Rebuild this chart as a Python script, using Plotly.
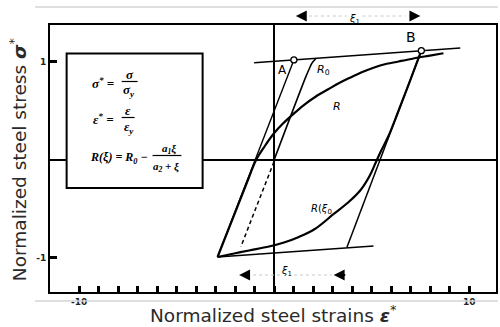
import plotly.graph_objects as go

# ---------------- data (normalized strain eps*, normalized stress sigma*) ----------------
upper_asym_x = [-1.03, 9.54]
upper_asym_y = [0.992, 1.142]
lower_asym_x = [-2.905, 5.094]
lower_asym_y = [-0.995, -0.882]
elastic_A_x = [-2.905, 1.01]
elastic_A_y = [-0.995, 1.02]
unload_B_x = [7.545, 3.731]
unload_B_y = [1.115, -0.896]
r0_x = [0.0, 1.62, 1.80, 1.93, 2.15]
r0_y = [0.0, 0.847, 0.93, 0.985, 1.037]
r0_dash_x = [-0.01, -1.71]
r0_dash_y = [-0.02, -0.89]
r_curve_x = [-2.905, -1.307, -0.929, -0.495, -0.010, 0.449, 0.924, 1.521, 2.118,
             2.797, 3.308, 3.818, 4.584, 5.518, 6.381, 7.146, 7.912, 8.678]
r_curve_y = [-0.995, -0.187, -0.003, 0.135, 0.270, 0.370, 0.457, 0.559, 0.644,
             0.723, 0.781, 0.832, 0.902, 0.968, 1.004, 1.035, 1.062, 1.088]
r_xi_x = [7.545, 6.983, 6.371, 5.860, 5.452, 5.197, 4.890, 4.431, 3.818, 3.052,
          2.083, 1.266, 0.500, -0.266, -1.287, -2.053, -2.905]
r_xi_y = [1.115, 0.815, 0.498, 0.242, 0.079, -0.034, -0.167, -0.310, -0.433, -0.555,
          -0.709, -0.790, -0.847, -0.888, -0.928, -0.959, -0.995]
points_x = [1.01, 7.545]
points_y = [1.02, 1.115]

x_tick_vals = list(range(-10, 11))
x_tick_text = ["-10"] + [""] * 19 + ["10"]
y_tick_vals = [-1, 1]
y_tick_text = ["-1", "1"]

x_title = "Normalized steel strains <b><i>ε</i></b><sup>*</sup>"
y_title = "Normalized steel stress <b><i>σ</i></b><sup>*</sup>"

# ---------------- geometry of the page ----------------
W_PAGE, H_PAGE = 500, 327
ML, MR, MT, MB = 50, 2, 25, 35
PW = W_PAGE - ML - MR
PH = H_PAGE - MT - MB


def fx(p):
    return (p - ML) / PW


def fy(p):
    return (MT + PH - p) / PH


fig = go.Figure()


def add_line(xs, ys, width=1.6, dash="solid", shape="linear"):
    fig.add_trace(go.Scatter(x=xs, y=ys, mode="lines",
                             line=dict(color="black", width=width, dash=dash, shape=shape),
                             hoverinfo="skip", showlegend=False))


add_line(upper_asym_x, upper_asym_y, 1.5)
add_line(lower_asym_x, lower_asym_y, 1.5)
add_line(elastic_A_x, elastic_A_y, 1.4)
add_line(unload_B_x, unload_B_y, 1.5)
add_line(r0_x, r0_y, 1.6, shape="spline")
add_line(r0_dash_x, r0_dash_y, 1.5, dash="4px,3px")
add_line(r_curve_x, r_curve_y, 2.2, shape="spline")
add_line(r_xi_x, r_xi_y, 2.2, shape="spline")
fig.add_trace(go.Scatter(x=points_x, y=points_y, mode="markers",
                         marker=dict(size=6, color="white", line=dict(color="black", width=1.3)),
                         hoverinfo="skip", showlegend=False))

ann = []
shapes = []

# point / curve labels
lab_font = dict(family="DejaVu Sans", size=11, color="black")
ann.append(dict(x=0.41, y=0.917, text="A", font=dict(family="DejaVu Sans", size=12, color="black")))
ann.append(dict(x=2.54, y=0.917, text="<i>R</i><sub>0</sub>", font=lab_font))
ann.append(dict(x=3.22, y=0.542, text="<i>R</i>", font=lab_font))
ann.append(dict(x=7.02, y=1.258, text="B", font=dict(family="DejaVu Sans", size=14, color="black")))
ann.append(dict(x=2.44, y=-0.514, text="<i>R</i>(<i>ξ</i><sub>0</sub>", font=dict(family="DejaVu Sans", size=10, color="black")))
for a in ann:
    a.update(xref="x", yref="y", showarrow=False, xanchor="center", yanchor="middle")

arrow_style = dict(text="", showarrow=True, arrowhead=2, arrowsize=1.15, arrowwidth=1.9,
                   arrowcolor="black", ay=0)

# xi_1 dimension markers (top)
ytop = fy(16)
ann.append(dict(x=4.12, y=fy(11), xref="x", yref="paper", text="<i>ξ</i><sub>1</sub>",
                showarrow=False, font=dict(family="DejaVu Sans", size=10, color="black")))
ann.append(dict(x=points_x[0] + 0.1, y=ytop, xref="x", yref="paper", ax=11, **arrow_style))
ann.append(dict(x=points_x[1] - 0.05, y=ytop, xref="x", yref="paper", ax=-12, **arrow_style))
shapes.append(dict(type="line", xref="paper", yref="paper", x0=fx(310), x1=fx(348), y0=ytop, y1=ytop,
                   line=dict(color="#c8c8c8", width=1, dash="dot")))
shapes.append(dict(type="line", xref="paper", yref="paper", x0=fx(364), x1=fx(407), y0=ytop, y1=ytop,
                   line=dict(color="#c8c8c8", width=1, dash="dot")))

# xi_1 dimension markers (bottom)
ybot = fy(275)
ann.append(dict(x=fx(288), y=fy(280), xref="paper", yref="paper", text="<i>ξ</i><sub>1</sub>",
                showarrow=False, font=dict(family="DejaVu Sans", size=10, color="black")))
ann.append(dict(x=fx(240), y=ybot, xref="paper", yref="paper", ax=12, **arrow_style))
ann.append(dict(x=fx(335), y=ybot, xref="paper", yref="paper", ax=13, **arrow_style))
shapes.append(dict(type="line", xref="paper", yref="paper", x0=fx(254), x1=fx(281), y0=ybot, y1=ybot,
                   line=dict(color="#c8c8c8", width=1, dash="dot")))
shapes.append(dict(type="line", xref="paper", yref="paper", x0=fx(295), x1=fx(333), y0=ybot, y1=ybot,
                   line=dict(color="#c8c8c8", width=1, dash="dot")))

# formula box
shapes.append(dict(type="rect", xref="paper", yref="paper", x0=fx(66.7), x1=fx(203.3),
                   y0=fy(188), y1=fy(53.5), line=dict(color="black", width=2),
                   fillcolor="white", layer="above"))
ffont = dict(family="Liberation Serif", size=13, color="black", weight="bold", style="italic")


def ftext(px, py, text, anchor="center", size=None):
    f = dict(ffont)
    if size:
        f["size"] = size
    ann.append(dict(x=fx(px), y=fy(py), xref="paper", yref="paper", text=text,
                    showarrow=False, xanchor=anchor, yanchor="middle", font=f))


def fbar(x0, x1, py):
    shapes.append(dict(type="line", xref="paper", yref="paper", x0=fx(x0), x1=fx(x1),
                       y0=fy(py), y1=fy(py), line=dict(color="black", width=1.2), layer="above"))


ftext(90, 83, "σ<sup>*</sup> =", "left")
ftext(130, 74, "σ")
fbar(122, 138, 81.5)
ftext(129, 90, "σ<sub>y</sub>")

ftext(91, 119, "ε<sup>*</sup> =", "left")
ftext(128, 110, "ε")
fbar(122, 135, 117.5)
ftext(129, 127, "ε<sub>y</sub>")

ftext(88, 158, "R(ξ) = R<sub>0</sub> −", "left", 12)
ftext(170, 149, "a<sub>1</sub>ξ", size=11)
fbar(153, 182, 155.5)
ftext(167, 167, "a<sub>2</sub> + ξ", size=11)

# axis titles
title_font = dict(family="DejaVu Sans", size=18.5, color="#2a2a2a")
ann.append(dict(x=fx(275), y=fy(314), xref="paper", yref="paper", text=x_title, showarrow=False,
                xanchor="center", yanchor="middle", font=title_font))
ann.append(dict(x=fx(18), y=fy(159), xref="paper", yref="paper", text=y_title, showarrow=False,
                xanchor="center", yanchor="middle", textangle=-90, font=title_font))

# decorative light gray rules of the slide
shapes.append(dict(type="line", xref="paper", yref="paper", x0=fx(35), x1=fx(500),
                   y0=fy(7), y1=fy(7), line=dict(color="#d4d4d4", width=1.5)))
shapes.append(dict(type="line", xref="paper", yref="paper", x0=fx(35), x1=fx(500),
                   y0=fy(301), y1=fy(301), line=dict(color="#d4d4d4", width=1.5)))

x_range = [(ML - 275.2) / 19.59, (ML + PW - 275.2) / 19.59]
y_range = [(159.7 - (MT + PH)) / 97.8, (159.7 - MT) / 97.8]

tick_font = dict(family="DejaVu Sans", size=9, color="#222", weight="bold")

fig.update_layout(
    width=W_PAGE, height=H_PAGE,
    margin=dict(l=ML, r=MR, t=MT, b=MB, pad=0),
    paper_bgcolor="white", plot_bgcolor="white",
    showlegend=False,
    annotations=ann, shapes=shapes,
    xaxis=dict(range=x_range, tickmode="array", tickvals=x_tick_vals, ticktext=x_tick_text,
               ticks="inside", ticklen=6, tickwidth=2.5, tickcolor="black",
               showline=True, linewidth=2, linecolor="black", mirror=True,
               showgrid=False, zeroline=True, zerolinewidth=2, zerolinecolor="black",
               tickfont=tick_font, fixedrange=True),
    yaxis=dict(range=y_range, tickmode="array", tickvals=y_tick_vals, ticktext=y_tick_text,
               ticks="inside", ticklen=7, tickwidth=2.5, tickcolor="black",
               showline=True, linewidth=2, linecolor="black", mirror=True,
               showgrid=False, zeroline=True, zerolinewidth=2, zerolinecolor="black",
               tickfont=tick_font, fixedrange=True),
)

fig.write_html("out.html")
